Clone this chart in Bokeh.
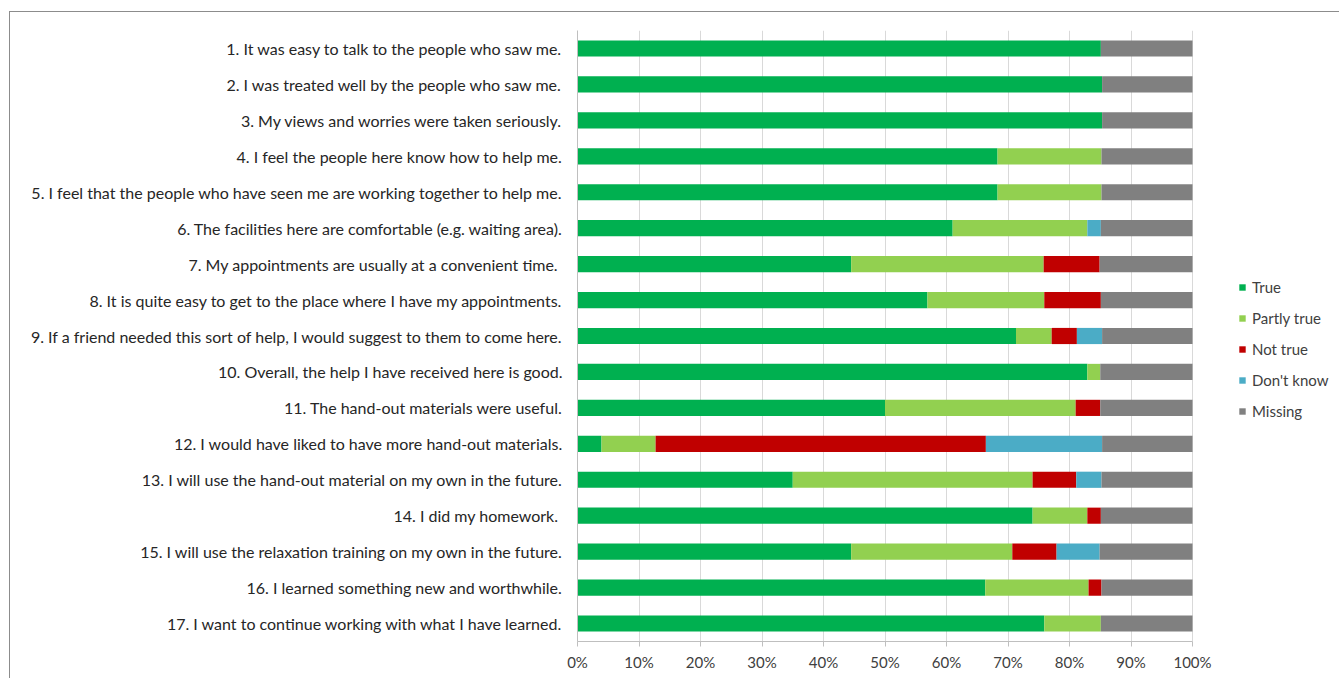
from bokeh.plotting import figure
from bokeh.models import ColumnDataSource, Legend, LegendItem, NumeralTickFormatter, FixedTicker
from bokeh.embed import file_html
from bokeh.resources import INLINE

questions = [
    "1. It was easy to talk to the people who saw me.",
    "2. I was treated well by the people who saw me.",
    "3. My views and worries were taken seriously.",
    "4. I feel the people here know how to help me.",
    "5. I feel that the people who have seen me are working together to help me.",
    "6. The facilities here are comfortable (e.g. waiting area).",
    "7. My appointments are usually at a convenient time. ",
    "8. It is quite easy to get to the place where I have my appointments.",
    "9. If a friend needed this sort of help, I would suggest to them to come here.",
    "10. Overall, the help I have received here is good.",
    "11. The hand-out materials were useful.",
    "12. I would have liked to have more hand-out materials.",
    "13. I will use the hand-out material on my own in the future.",
    "14. I did my homework. ",
    "15. I will use the relaxation training on my own in the future.",
    "16. I learned something new and worthwhile.",
    "17. I want to continue working with what I have learned.",
]

true_vals    = [85.1, 85.3, 85.3, 68.3, 68.3, 61.0, 44.5, 56.9, 71.3, 82.9, 50.0, 3.9, 35.0, 74.0, 44.5, 66.3, 75.9]
partly_vals  = [0.0, 0.0, 0.0, 16.9, 16.9, 21.9, 31.3, 19.0, 5.8, 2.1, 31.0, 8.8, 39.0, 8.9, 26.2, 16.8, 9.2]
not_vals     = [0.0, 0.0, 0.0, 0.0, 0.0, 0.0, 9.1, 9.2, 4.1, 0.0, 4.0, 53.7, 7.1, 2.2, 7.2, 2.1, 0.0]
dontknow_vals= [0.0, 0.0, 0.0, 0.0, 0.0, 2.2, 0.0, 0.0, 4.1, 0.0, 0.0, 18.9, 4.1, 0.0, 7.0, 0.0, 0.0]
missing_vals = [14.9, 14.7, 14.7, 14.8, 14.8, 14.9, 15.1, 14.9, 14.7, 15.0, 15.0, 14.7, 14.8, 14.9, 15.1, 14.8, 14.9]
x_ticks = [0.0, 0.1, 0.2, 0.3, 0.4, 0.5, 0.6, 0.7, 0.8, 0.9, 1.0]

series_names = ["True", "Partly true", "Not true", "Don't know", "Missing"]
series_keys = ["true", "partly", "not", "dk", "missing"]
colors = ["#00B050", "#92D050", "#C00000", "#4BACC6", "#808080"]

data = {"q": questions}
for k, vals in zip(series_keys, [true_vals, partly_vals, not_vals, dontknow_vals, missing_vals]):
    data[k] = [v / 100.0 for v in vals]
src = ColumnDataSource(data)

FONT = "Lato"

W, H = 1330, 667
LEFT, TOP, BOTTOM, RIGHT = 567, 18, 38, 5
SCALE_PX = 615.0  # pixels for 0..100%
x_end = (W - LEFT - RIGHT) / SCALE_PX

p = figure(
    y_range=list(reversed(questions)), x_range=(0, x_end),
    width=W, height=H, output_backend="svg", toolbar_location=None,
    min_border_left=LEFT, min_border_right=RIGHT, min_border_top=TOP, min_border_bottom=BOTTOM,
)
p.styles = {"border-left": "1px solid #8c8c8c", "border-top": "1px solid #8c8c8c",
            "margin-top": "11px", "margin-left": "9px"}
p.y_range.range_padding = 0

rs = p.hbar_stack(series_keys, y="q", height=0.45, color=colors, source=src, line_width=0)

legend = Legend(items=[LegendItem(label=n, renderers=[r]) for n, r in zip(series_names, rs)],
                location=(661, 220))
legend.glyph_width = 8
legend.glyph_height = 8
legend.label_height = 20
legend.spacing = 11
legend.label_standoff = 6
legend.padding = 0
legend.margin = 0
legend.border_line_color = None
legend.background_fill_alpha = 0
legend.label_text_font = FONT
legend.label_text_font_size = "15px"
legend.label_text_color = "#404040"
p.add_layout(legend, "center")

p.outline_line_color = None
p.ygrid.grid_line_color = None
p.xgrid.grid_line_color = "#d9d9d9"
p.xgrid.ticker = FixedTicker(ticks=x_ticks)
p.xgrid.bounds = (0, 1)

p.xaxis.ticker = FixedTicker(ticks=x_ticks)
p.xaxis.bounds = (0, 1)
p.xaxis.formatter = NumeralTickFormatter(format="0%")
p.xaxis.axis_line_color = "#bfbfbf"
p.xaxis.major_tick_line_color = "#bfbfbf"
p.xaxis.major_tick_out = 5
p.xaxis.major_tick_in = 0
p.xaxis.minor_tick_line_color = None
p.xaxis.major_label_standoff = 6
p.xaxis.major_label_text_font = FONT
p.xaxis.major_label_text_font_size = "15px"
p.xaxis.major_label_text_color = "#404040"

p.yaxis.axis_line_color = "#bfbfbf"
p.yaxis.major_tick_line_color = None
p.yaxis.major_tick_out = 0
p.yaxis.minor_tick_line_color = None
p.yaxis.major_label_standoff = 15
p.yaxis.major_label_text_font = FONT
p.yaxis.major_label_text_font_size = "16px"
p.yaxis.major_label_text_color = "#262626"

open("out.html", "w").write(file_html(p, INLINE))
